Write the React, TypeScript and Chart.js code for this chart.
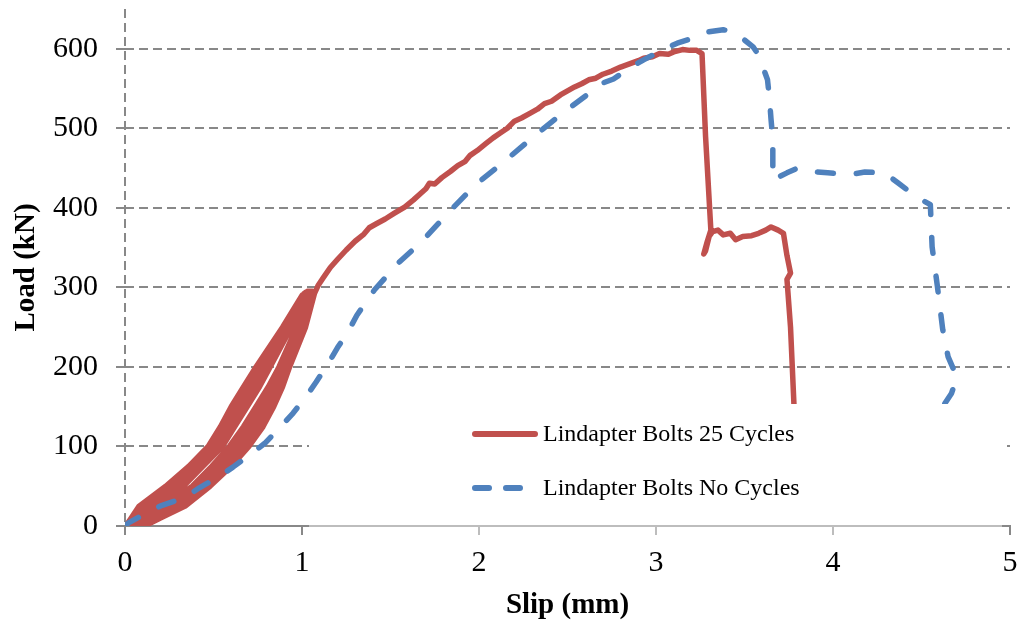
import React, { useEffect, useRef } from 'react';
import { Chart, registerables } from 'chart.js';

Chart.register(...registerables);

// ---------- data ----------
const seriesNames = ['Lindapter Bolts 25 Cycles', 'Lindapter Bolts No Cycles'];
const xTickValues = [0, 1, 2, 3, 4, 5];
const yTickValues = [0, 100, 200, 300, 400, 500, 600];
const xTitle = 'Slip (mm)';
const yTitle = 'Load (kN)';

// 25-cycle test: loading (up) and unloading (down) branches, [slip mm, load kN]
const cycleUp1: [number, number][] = [[0.06, 0], [0.12, 10], [0.22, 25], [0.38, 50], [0.49, 75], [0.59, 100], [0.67, 125], [0.74, 150], [0.81, 175], [0.87, 200], [0.97, 250], [1.04, 288]];
const cycleDown1: [number, number][] = [[1.0, 290], [0.89, 250], [0.74, 200], [0.67, 175], [0.6, 150], [0.54, 125], [0.47, 100], [0.36, 75], [0.23, 50], [0.08, 25], [0.035, 10], [0.01, 2]];
const cycleUp2: [number, number][] = [[0.07, 0], [0.14, 10], [0.25, 25], [0.4, 50], [0.52, 75], [0.62, 100], [0.7, 125], [0.76, 150], [0.83, 175], [0.88, 200], [0.98, 250], [1.05, 291]];
const cycleDown2: [number, number][] = [[1.01, 292], [0.91, 250], [0.77, 200], [0.7, 175], [0.63, 150], [0.57, 125], [0.5, 100], [0.39, 75], [0.26, 50], [0.11, 25], [0.05, 10], [0.02, 1]];
const cycleUp3: [number, number][] = [[0.09, 0], [0.16, 10], [0.28, 25], [0.43, 50], [0.54, 75], [0.64, 100], [0.72, 125], [0.79, 150], [0.85, 175], [0.9, 200], [0.99, 250], [1.05, 293]];
const cycleDown3: [number, number][] = [[1.02, 294], [0.92, 250], [0.8, 200], [0.73, 175], [0.66, 150], [0.6, 125], [0.52, 100], [0.42, 75], [0.3, 50], [0.14, 25], [0.07, 10], [0.03, 0]];
const cycleUp4: [number, number][] = [[0.1, 0], [0.18, 10], [0.31, 25], [0.46, 50], [0.57, 75], [0.67, 100], [0.75, 125], [0.82, 150], [0.87, 175], [0.92, 200], [1.01, 250], [1.06, 295]];
const cycleDown4: [number, number][] = [[1.03, 295], [0.94, 250], [0.82, 200], [0.76, 175], [0.69, 150], [0.62, 125], [0.55, 100], [0.44, 75], [0.33, 50], [0.17, 25], [0.09, 10], [0.05, 0]];
const cycleUp5: [number, number][] = [[0.11, 0], [0.2, 10], [0.34, 25], [0.48, 50], [0.6, 75], [0.7, 100], [0.78, 125], [0.84, 150], [0.89, 175], [0.93, 200], [1.02, 250], [1.07, 292]];

// 25-cycle test: final loading to failure
const cycledEnvelope: [number, number][] = [
  [1.09, 302], [1.12, 312], [1.16, 325], [1.2, 335], [1.25, 347], [1.3, 358], [1.35, 367], [1.38, 375],
  [1.42, 380], [1.47, 386], [1.52, 393], [1.58, 401], [1.63, 410], [1.67, 418], [1.7, 424], [1.72, 431],
  [1.75, 430], [1.79, 438], [1.84, 446], [1.88, 453], [1.92, 458], [1.95, 466], [1.99, 472], [2.04, 481],
  [2.08, 488], [2.12, 494], [2.16, 500], [2.2, 509], [2.24, 513], [2.29, 519], [2.33, 524], [2.37, 531],
  [2.41, 534], [2.46, 542], [2.5, 547], [2.54, 552], [2.58, 556], [2.62, 561], [2.66, 563], [2.7, 568],
  [2.75, 572], [2.8, 577], [2.85, 581], [2.9, 585], [2.93, 588], [2.98, 590], [3.02, 594], [3.07, 593],
  [3.1, 596], [3.15, 599], [3.19, 598], [3.23, 598], [3.26, 594],
  [3.28, 490], [3.31, 372], [3.29, 358], [3.27, 342], [3.28, 346], [3.3, 364], [3.32, 370], [3.35, 372],
  [3.38, 366], [3.42, 368], [3.45, 360], [3.49, 364], [3.54, 365], [3.58, 368], [3.62, 372], [3.65, 376],
  [3.69, 372], [3.72, 368], [3.74, 340], [3.76, 318], [3.74, 310], [3.76, 250], [3.78, 150], [3.8, 40],
];

// no-cycle test, [slip mm, load kN]
const noCycleCurve: [number, number][] = [
  [0.0, 0], [0.02, 4], [0.15, 20], [0.21, 26], [0.34, 36], [0.42, 48], [0.53, 62], [0.61, 74],
  [0.72, 92], [0.79, 104], [0.88, 125], [0.95, 142], [1.03, 165], [1.08, 181], [1.15, 205], [1.2, 224],
  [1.26, 244], [1.31, 265], [1.41, 297], [1.55, 332], [1.67, 356], [1.84, 397], [1.98, 429], [2.12, 454],
  [2.29, 486], [2.46, 517], [2.7, 557], [2.76, 562], [2.86, 577], [2.93, 586], [3.04, 599], [3.12, 607],
  [3.23, 615], [3.29, 621], [3.38, 624], [3.45, 620], [3.55, 602], [3.58, 592], [3.63, 561], [3.64, 540],
  [3.65, 511], [3.66, 486], [3.66, 457], [3.66, 435], [3.74, 444], [3.8, 450], [3.91, 445], [3.97, 444],
  [4.1, 442], [4.18, 445], [4.29, 444], [4.37, 431], [4.47, 414], [4.55, 404], [4.56, 351], [4.59, 301],
  [4.62, 247], [4.65, 213], [4.7, 187], [4.67, 167], [4.62, 150], [4.55, 120], [4.5, 80],
];

const cycledSeries = [
  ...cycleUp1, ...cycleDown1, ...cycleUp2, ...cycleDown2, ...cycleUp3, ...cycleDown3,
  ...cycleUp4, ...cycleDown4, ...cycleUp5, ...cycledEnvelope,
];

// ---------- styles ----------
const RED = '#C0504D';
const BLUE = '#4F81BD';
const GRID = '#888888';
const FONT = "'Liberation Serif', 'Times New Roman', serif";
const BLUE_DASH = [16, 23];
const GRID_DASH = [9, 5];

const legendOverlay = {
  id: 'legendOverlay',
  afterDraw(chart: any) {
    const ctx = chart.ctx as CanvasRenderingContext2D;
    const ds = chart.data.datasets;
    ctx.save();
    ctx.fillStyle = '#ffffff';
    ctx.fillRect(309, 404, 693, 119);
    ctx.fillStyle = 'rgba(255,255,255,0.45)';
    ctx.fillRect(309, 523, 693, 14);

    ctx.lineCap = 'round';
    ctx.lineWidth = 6;
    ctx.strokeStyle = ds[0].borderColor;
    ctx.setLineDash([]);
    ctx.beginPath();
    ctx.moveTo(475, 434);
    ctx.lineTo(535, 434);
    ctx.stroke();

    ctx.strokeStyle = ds[1].borderColor;
    ctx.setLineDash([14, 17]);
    ctx.beginPath();
    ctx.moveTo(475, 488);
    ctx.lineTo(529, 488);
    ctx.stroke();
    ctx.setLineDash([]);

    ctx.fillStyle = '#000';
    ctx.font = `24px ${FONT}`;
    ctx.textBaseline = 'middle';
    ctx.textAlign = 'left';
    ctx.fillText(ds[0].label, 543, 435);
    ctx.fillText(ds[1].label, 543, 489);
    ctx.restore();
  },
};

export default function App() {
  const ref = useRef<HTMLCanvasElement | null>(null);

  useEffect(() => {
    document.body.style.margin = '0';
    const canvas = ref.current;
    if (!canvas) return;
    const chart = new Chart(canvas, {
      type: 'line',
      data: {
        datasets: [
          {
            label: seriesNames[0],
            data: cycledSeries.map(([x, y]) => ({ x, y })),
            borderColor: RED,
            backgroundColor: RED,
            borderWidth: 5.5,
            pointRadius: 0,
            tension: 0,
            fill: false,
            order: 2,
            borderJoinStyle: 'round',
            borderCapStyle: 'round',
          },
          {
            label: seriesNames[1],
            data: noCycleCurve.map(([x, y]) => ({ x, y })),
            borderColor: BLUE,
            backgroundColor: BLUE,
            borderWidth: 5.5,
            borderDash: BLUE_DASH,
            borderCapStyle: 'round',
            borderJoinStyle: 'round',
            pointRadius: 0,
            tension: 0,
            fill: false,
            order: 1,
          },
        ],
      },
      options: {
        animation: false,
        responsive: false,
        maintainAspectRatio: false,
        layout: { padding: { top: 9, right: 13, left: 0, bottom: 0 } },
        plugins: { legend: { display: false }, tooltip: { enabled: false } },
        scales: {
          x: {
            type: 'linear',
            min: 0,
            max: 5,
            afterBuildTicks: (axis: any) => {
              axis.ticks = xTickValues.map((v) => ({ value: v }));
            },
            afterFit: (s: any) => {
              s.height = 100;
              s.paddingLeft = 0;
              s.paddingRight = 0;
            },
            ticks: {
              font: { family: FONT, size: 30 },
              color: '#000',
              padding: 10,
              maxRotation: 0,
            },
            grid: {
              drawOnChartArea: true,
              color: (c: any) => (c.tick && c.tick.value === 0 ? GRID : 'rgba(0,0,0,0)'),
              lineWidth: 2,
              drawTicks: true,
              tickLength: 9,
              tickColor: GRID,
              tickWidth: 2,
              tickBorderDash: [],
            },
            border: { display: true, color: GRID, width: 2, dash: GRID_DASH },
            title: {
              display: true,
              text: xTitle,
              font: { family: FONT, size: 29, weight: 'bold' },
              color: '#000',
              padding: { top: 0, bottom: 3 },
            },
          },
          y: {
            type: 'linear',
            min: 0,
            max: 650,
            afterBuildTicks: (axis: any) => {
              axis.ticks = yTickValues.map((v) => ({ value: v }));
            },
            afterFit: (s: any) => {
              s.width = 125;
              s.paddingTop = 0;
              s.paddingBottom = 0;
            },
            ticks: {
              font: { family: FONT, size: 30 },
              color: '#000',
              padding: 18,
            },
            grid: {
              drawOnChartArea: true,
              color: GRID,
              lineWidth: 2,
              drawTicks: true,
              tickLength: 9,
              tickColor: GRID,
              tickWidth: 2,
              tickBorderDash: [],
            },
            border: { display: false, dash: GRID_DASH },
            title: {
              display: true,
              text: yTitle,
              font: { family: FONT, size: 29, weight: 'bold' },
              color: '#000',
              padding: { top: 9, bottom: 0 },
            },
          },
        },
      },
      plugins: [legendOverlay],
    } as any);
    return () => chart.destroy();
  }, []);

  return (
    <div style={{ width: 1023, height: 626 }}>
      <canvas ref={ref} width={1023} height={626} style={{ display: 'block' }} />
    </div>
  );
}
